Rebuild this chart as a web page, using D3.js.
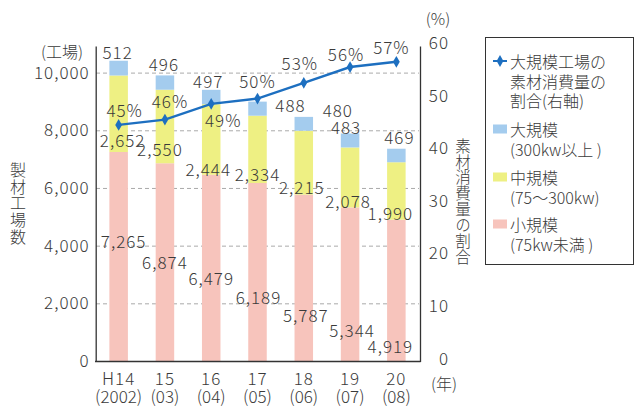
<!DOCTYPE html>
<html>
<head>
  <meta charset="utf-8">
  <title>製材工場数</title>
  <script src="https://cdn.jsdelivr.net/npm/d3@7"></script>
  <style>
    body { margin: 0; background: #fff; }
    text { font-family: "Noto Sans CJK JP", sans-serif; font-weight: 300; fill: #3a3a3a; }
    .num { letter-spacing: 1px; }
    .vt { writing-mode: vertical-rl; }
  </style>
</head>
<body>
  <svg width="635" height="406"></svg>
  <script>
    // データ
    var years = ["H14", "15", "16", "17", "18", "19", "20"];
    var yearsSub = ["(2002)", "(03)", "(04)", "(05)", "(06)", "(07)", "(08)"];
    var small = [7265, 6874, 6479, 6189, 5787, 5344, 4919];
    var medium = [2652, 2550, 2444, 2334, 2215, 2078, 1990];
    var large = [512, 496, 497, 488, 480, 483, 469];
    var share = [45, 46, 49, 50, 53, 56, 57];
    var leftTicks = [0, 2000, 4000, 6000, 8000, 10000];
    var rightTicks = [0, 10, 20, 30, 40, 50, 60];

    // ラベル位置の微調整 (dx, dy)
    var smallOff = [[5, 89], [0, 98], [0, 103], [1, 113], [2, 120], [2, 122], [-6, 126]];
    var mediumOff = [[4, -12], [-5, -15], [-3, -6], [0, -10], [-2, -8], [-2, -7], [-6, -7]];
    var largeOff = [[-1, -9], [-1, -12], [-3, -9], [33, 3], [34, -7], [-4, -7], [3, -12]];
    var pctOff = [[6, -15], [5, -19], [12, 16], [0, -18], [-4, -20], [-4, -14], [-5, -15]];

    var colors = { large: "#a4ccee", medium: "#eef083", small: "#f7c4bc", line: "#1d6fc0" };

    var svg = d3.select("svg");
    var y0 = 361.5, yTop = 46;

    var x = d3.scaleBand().domain(years).range([95.5, 419.5])
      .paddingInner(0.6).paddingOuter(0.3);
    var yL = d3.scaleLinear().domain([0, 10940]).range([y0, yTop]);
    var yR = d3.scaleLinear().domain([0, 60]).range([y0, yTop]);

    // グリッド線
    svg.append("g").selectAll("line")
      .data(leftTicks.slice(1))
      .enter().append("line")
      .attr("x1", 96).attr("x2", 419)
      .attr("y1", function (d) { return yL(d); })
      .attr("y2", function (d) { return yL(d); })
      .attr("stroke", "#aaa").attr("stroke-width", 1)
      .attr("stroke-dasharray", "4,3");

    // 積み上げ棒
    var stackData = years.map(function (y, i) {
      return { year: y, small: small[i], medium: medium[i], large: large[i] };
    });
    var series = d3.stack().keys(["small", "medium", "large"])(stackData);
    svg.append("g").selectAll("g")
      .data(series)
      .enter().append("g")
      .attr("fill", function (d) { return colors[d.key]; })
      .selectAll("rect")
      .data(function (d) { return d; })
      .enter().append("rect")
      .attr("x", function (d) { return x(d.data.year); })
      .attr("width", x.bandwidth())
      .attr("y", function (d) { return yL(d[1]); })
      .attr("height", function (d) { return yL(d[0]) - yL(d[1]); });

    // 軸
    var axisL = d3.axisLeft(yL).tickValues(leftTicks).tickSize(0).tickPadding(6)
      .tickFormat(d3.format(","));
    var gL = svg.append("g").attr("transform", "translate(95.7,0)").call(axisL);
    var axisR = d3.axisRight(yR).tickValues(rightTicks).tickSize(0).tickPadding(29);
    var gR = svg.append("g").attr("transform", "translate(420,0)").call(axisR);
    gR.selectAll("text").attr("text-anchor", "end").attr("dy", "0.15em");
    [gL, gR].forEach(function (g) {
      g.select(".domain").attr("stroke", "#333").attr("stroke-width", 1.3);
      g.selectAll("text").attr("class", "num").style("font-size", "17px")
        .style("font-family", null).attr("fill", "#3a3a3a");
    });
    gL.selectAll("text").attr("dy", "0.3em");

    svg.append("line")
      .attr("x1", 95).attr("x2", 420.6).attr("y1", y0).attr("y2", y0)
      .attr("stroke", "#333").attr("stroke-width", 1.3);

    // x軸ラベル
    var xl = svg.append("g");
    xl.selectAll(".yr").data(years).enter().append("text")
      .attr("class", "num")
      .attr("x", function (d) { return x(d) + x.bandwidth() / 2; })
      .attr("y", 377).attr("dominant-baseline", "central")
      .attr("text-anchor", "middle").style("font-size", "17px")
      .text(function (d) { return d; });
    xl.selectAll(".sub").data(yearsSub).enter().append("text")
      .attr("x", function (d, i) { return x(years[i]) + x.bandwidth() / 2; })
      .attr("y", 395.5).attr("dominant-baseline", "central")
      .attr("text-anchor", "middle").style("font-size", "17px")
      .text(function (d) { return d; });

    // 折れ線
    var line = d3.line()
      .x(function (d, i) { return x(years[i]) + x.bandwidth() / 2; })
      .y(function (d) { return yR(d); });
    svg.append("path").datum(share)
      .attr("d", line).attr("fill", "none")
      .attr("stroke", colors.line).attr("stroke-width", 2.4);
    var diamond = d3.symbol().type(d3.symbolDiamond).size(40);
    svg.append("g").selectAll("path")
      .data(share).enter().append("path")
      .attr("d", diamond)
      .attr("transform", function (d, i) {
        return "translate(" + (x(years[i]) + x.bandwidth() / 2) + "," + yR(d) + ")";
      })
      .attr("fill", colors.line);

    // 値ラベル
    function labels(vals, base, off, fmt) {
      svg.append("g").selectAll("text")
        .data(vals).enter().append("text")
        .attr("class", "num")
        .attr("x", function (d, i) { return x(years[i]) + x.bandwidth() / 2 + off[i][0]; })
        .attr("y", function (d, i) { return base(d, i) + off[i][1]; })
        .attr("dominant-baseline", "central")
        .attr("text-anchor", "middle").style("font-size", "17px")
        .text(fmt);
    }
    labels(small, function (d, i) { return yL(small[i]); }, smallOff, d3.format(","));
    labels(medium, function (d, i) { return yL(small[i]); }, mediumOff, d3.format(","));
    labels(large, function (d, i) { return yL(small[i] + medium[i] + large[i]); }, largeOff, d3.format(","));
    labels(share, function (d) { return yR(d); }, pctOff, function (d) { return d + "%"; });

    // 単位
    svg.append("text").attr("x", 62).attr("y", 51).attr("text-anchor", "middle")
      .attr("dominant-baseline", "central").style("font-size", "16px").text("(工場)");
    svg.append("text").attr("x", 438).attr("y", 18).attr("text-anchor", "middle")
      .attr("dominant-baseline", "central").style("font-size", "16px").text("(%)");
    svg.append("text").attr("x", 444).attr("y", 383).attr("text-anchor", "middle")
      .attr("dominant-baseline", "central").style("font-size", "16px").text("(年)");

    // 縦書きタイトル
    svg.append("text").attr("class", "vt")
      .attr("x", 18).attr("y", 162)
      .style("font-size", "16px").style("letter-spacing", "0.7px")
      .text("製材工場数");
    svg.append("text").attr("class", "vt")
      .attr("x", 463).attr("y", 138)
      .style("font-size", "15.5px").style("letter-spacing", "0.4px")
      .text("素材消費量の割合");

    // 凡例
    var lg = svg.append("g");
    lg.append("rect").attr("x", 485.5).attr("y", 37.5).attr("width", 148).attr("height", 227)
      .attr("fill", "#fff").attr("stroke", "#333").attr("stroke-width", 1);
    var legendItems = [
      { type: "line", lines: ["大規模工場の", "素材消費量の", "割合(右軸)"], y: 61 },
      { type: "large", lines: ["大規模", "(300kw以上 )"], y: 129 },
      { type: "medium", lines: ["中規模", "(75～300kw)"], y: 177 },
      { type: "small", lines: ["小規模", "(75kw未満 )"], y: 224 }
    ];
    legendItems.forEach(function (it) {
      if (it.type === "line") {
        lg.append("line").attr("x1", 493).attr("x2", 507).attr("y1", it.y).attr("y2", it.y)
          .attr("stroke", colors.line).attr("stroke-width", 2);
        lg.append("path").attr("d", diamond)
          .attr("transform", "translate(500," + it.y + ")").attr("fill", colors.line);
      } else {
        lg.append("rect").attr("x", 493).attr("y", it.y - 4.5).attr("width", 14).attr("height", 9)
          .attr("fill", colors[it.type]);
      }
      it.lines.forEach(function (t, j) {
        lg.append("text").attr("x", 510).attr("y", it.y + j * 19.5)
          .attr("dominant-baseline", "central").style("font-size", "16px").text(t);
      });
    });
  </script>
</body>
</html>
